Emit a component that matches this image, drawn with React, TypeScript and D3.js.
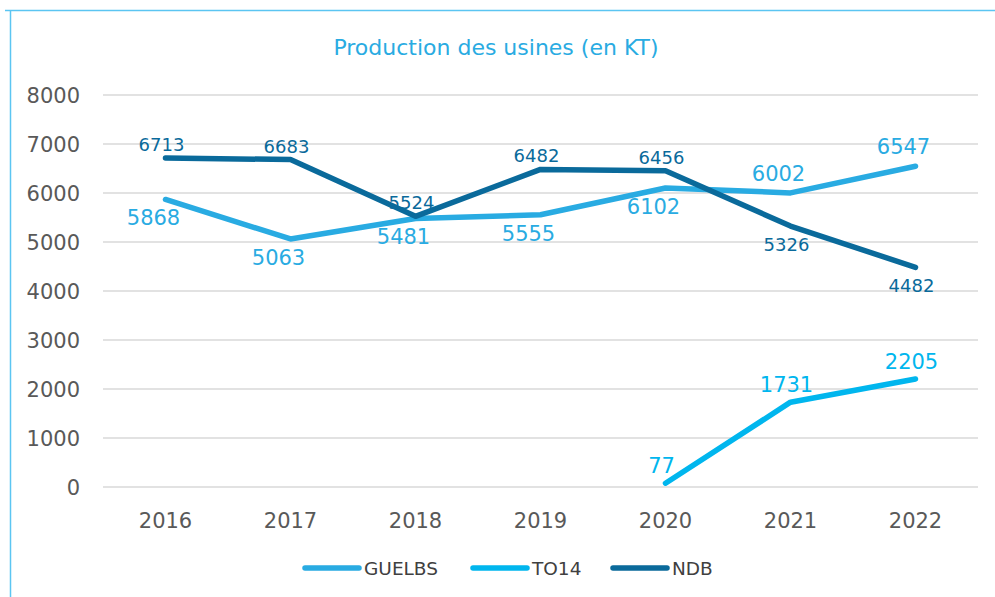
import React from "react";
import * as d3 from "d3";

const years = ["2016", "2017", "2018", "2019", "2020", "2021", "2022"];
const guelbs = [5868, 5063, 5481, 5555, 6102, 6002, 6547];
const to14: (number | null)[] = [null, null, null, null, 77, 1731, 2205];
const ndb = [6713, 6683, 5524, 6482, 6456, 5326, 4482];
const yTicks = [0, 1000, 2000, 3000, 4000, 5000, 6000, 7000, 8000];
const guelbsLabelPos = ["below", "below", "below", "below", "below", "above", "above"];
const ndbLabelPos = ["above", "above", "above", "above", "above", "below", "below"];

const C_GUELBS = "#29abe2";
const C_TO14 = "#00b6ee";
const C_NDB = "#0a6a9b";
const FONT = "'DejaVu Sans', Lato, sans-serif";

export default function App() {
  const W = 995, H = 597;
  const x = d3.scalePoint<string>().domain(years).range([103 + 62.5, 978 - 62.5]);
  const y = d3.scaleLinear().domain([0, 8000]).range([487, 95]);

  const line = d3
    .line<number | null>()
    .defined((d) => d !== null)
    .x((_, i) => x(years[i])!)
    .y((d) => y(d as number));

  const series = [
    { name: "GUELBS", data: guelbs as (number | null)[], color: C_GUELBS },
    { name: "TO14", data: to14, color: C_TO14 },
    { name: "NDB", data: ndb as (number | null)[], color: C_NDB },
  ];

  const legendX = [305, 473, 613];

  return (
    <svg width={W} height={H} style={{ position: "absolute", left: 0, top: 0 }}>
      <rect x={0} y={0} width={W} height={H} fill="#fff" />
      <line x1={5} x2={W} y1={10.5} y2={10.5} stroke="#5bc5f2" strokeWidth={1.5} />
      <line x1={10.5} x2={10.5} y1={10} y2={H} stroke="#5bc5f2" strokeWidth={1.5} />
      <text x={496} y={55} textAnchor="middle" fontFamily={FONT} fontSize={22} fill="#29abe2">
        Production des usines (en KT)
      </text>
      {yTicks.map((t) => (
        <g key={t}>
          <line x1={103} x2={978} y1={y(t)} y2={y(t)} stroke="#d9d9d9" strokeWidth={1.5} />
          <text x={80} y={y(t) + 8} textAnchor="end" fontFamily={FONT} fontSize={21} fill="#595959">
            {t}
          </text>
        </g>
      ))}
      {years.map((yr) => (
        <text key={yr} x={x(yr)} y={528} textAnchor="middle" fontFamily={FONT} fontSize={21} fill="#595959">
          {yr}
        </text>
      ))}
      {series.map((s) => (
        <path
          key={s.name}
          d={line(s.data) || ""}
          fill="none"
          stroke={s.color}
          strokeWidth={5.5}
          strokeLinecap="round"
          strokeLinejoin="round"
        />
      ))}
      {guelbs.map((v, i) => (
        <text
          key={"g" + i}
          x={x(years[i])! - 12}
          y={guelbsLabelPos[i] === "below" ? y(v) + 26 : y(v) - 12}
          textAnchor="middle"
          fontFamily={FONT}
          fontSize={21}
          fill={C_GUELBS}
        >
          {v}
        </text>
      ))}
      {to14.map((v, i) =>
        v === null ? null : (
          <text
            key={"t" + i}
            x={x(years[i])! - 4}
            y={y(v) - 10}
            textAnchor="middle"
            fontFamily={FONT}
            fontSize={21}
            fill={C_TO14}
          >
            {v}
          </text>
        )
      )}
      {ndb.map((v, i) => (
        <text
          key={"n" + i}
          x={x(years[i])! - 4}
          y={ndbLabelPos[i] === "below" ? y(v) + 25 : y(v) - 7}
          textAnchor="middle"
          fontFamily={FONT}
          fontSize={18}
          fill={C_NDB}
        >
          {v}
        </text>
      ))}
      {series.map((s, i) => (
        <g key={"l" + s.name}>
          <line
            x1={legendX[i]}
            x2={legendX[i] + 54}
            y1={568}
            y2={568}
            stroke={s.color}
            strokeWidth={5.5}
            strokeLinecap="round"
          />
          <text x={legendX[i] + 59} y={575} fontFamily={FONT} fontSize={18.5} fill="#404040">
            {s.name}
          </text>
        </g>
      ))}
    </svg>
  );
}
